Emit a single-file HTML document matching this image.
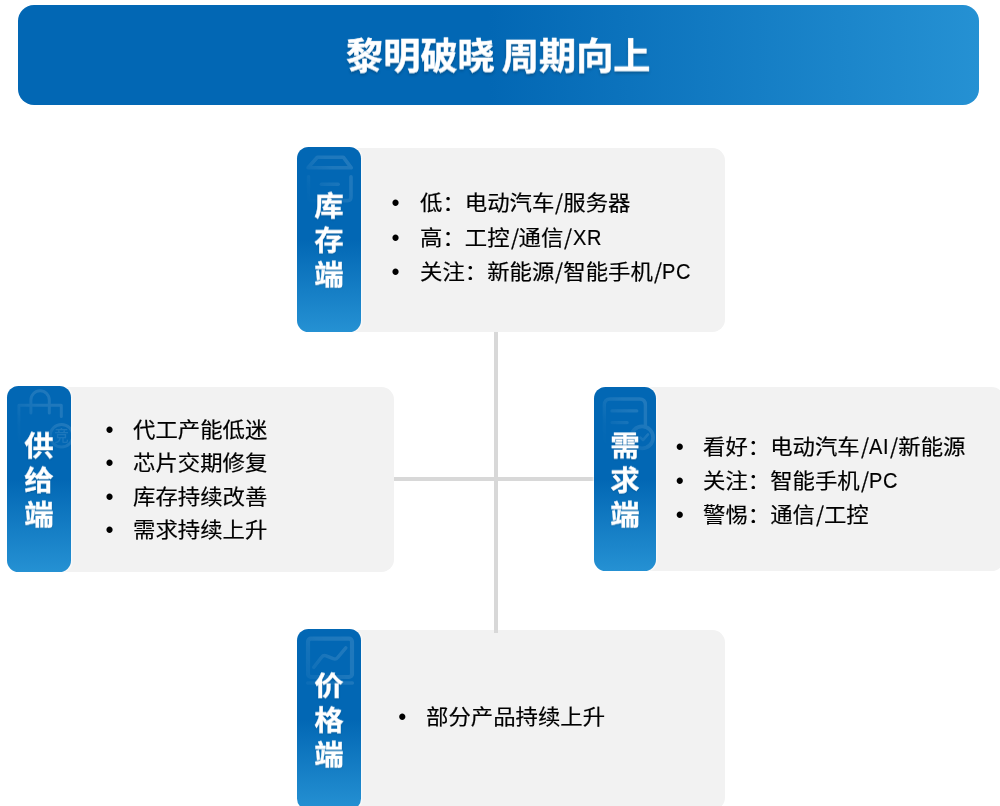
<!DOCTYPE html>
<html lang="zh-CN">
<head>
<meta charset="utf-8">
<title>黎明破晓 周期向上</title>
<style>
*{box-sizing:border-box;margin:0;padding:0}
html,body{width:1000px;height:806px;overflow:hidden;background:#fff}
body{position:relative;font-family:"Liberation Sans","Noto Sans CJK SC",sans-serif;color:#000}
.hdr{position:absolute;left:18px;top:5px;width:960.6px;height:100.3px;border-radius:16px;
  background:linear-gradient(90deg,#0267b4 0%,#0267b4 49%,#2591d3 100%);
  color:#fff;font-weight:700;font-size:37.2px;line-height:100px;text-align:center;
  text-shadow:0 2px 3px rgba(0,0,0,.25);white-space:pre;word-spacing:-3.3px;-webkit-text-stroke:.5px #fff}
.hdr span{display:block;will-change:transform;transform:translateY(1.7px) scaleY(.99)}
.card{position:absolute;background:#f2f2f2;border-radius:12.5px;height:184.2px}
.lab{position:absolute;left:0;top:-.7px;width:64.4px;height:184.6px;border-radius:11.5px;overflow:hidden;
  background:linear-gradient(180deg,#0267b4 0%,#0267b4 50%,#2591d3 100%);
  color:#fff;font-weight:700;font-size:29.5px;line-height:37px;text-align:center;
  text-shadow:0 1px 2px rgba(0,0,0,.2);-webkit-text-stroke:.3px #fff;box-shadow:0 0 2px .3px rgba(255,255,255,.75);
  display:flex;align-items:center;justify-content:center}
.lab span{display:block;width:30px;position:relative;z-index:1;will-change:transform;transform:translateY(.7px) scaleY(.93)}
.lab svg{position:absolute;left:0;top:0;width:64.4px;height:80px;fill:none;stroke:#fff;stroke-linecap:round;stroke-linejoin:round;
  -webkit-mask-image:linear-gradient(to bottom left,rgba(0,0,0,.13) 0%,rgba(0,0,0,.115) 35%,rgba(0,0,0,.075) 50%,rgba(0,0,0,.025) 64%,rgba(0,0,0,0) 80%);
  mask-image:linear-gradient(to bottom left,rgba(0,0,0,.13) 0%,rgba(0,0,0,.115) 35%,rgba(0,0,0,.075) 50%,rgba(0,0,0,.025) 64%,rgba(0,0,0,0) 80%)}
.lab svg text{-webkit-text-stroke:0;font-family:"Liberation Sans","Noto Sans CJK SC",sans-serif;font-weight:500;stroke:none;fill:#fff;text-shadow:none}
ul{position:absolute;list-style:none;font-size:22.4px;white-space:nowrap;-webkit-text-stroke:.2px #000}
li{position:relative;will-change:transform}
li:before{-webkit-text-stroke:0;content:"•";position:absolute;left:-28.3px;top:-2.2px;font-size:23px;transform:translate(var(--bx),var(--by))}
li span{display:inline-block;transform:scaleY(.935);transform-origin:0 76%}
i{font-style:normal;display:inline-block;width:9px;line-height:1;text-align:center;transform:translate(-.8px,4.1px) skewX(-6deg) scale(.84,1.36);transform-origin:50% 84.65%}
b{font-weight:400;display:inline-block;line-height:1;transform:translateY(.2px) scale(.893,1.08);transform-origin:0 84.65%;margin:0 -2.2px 0 .2px;letter-spacing:.7px}
.v{position:absolute;left:494px;top:332px;width:4px;height:300.6px;background:#d8d8d8;z-index:2}
.h{position:absolute;left:393px;top:477px;width:201px;height:3.8px;background:#d8d8d8}
</style>
</head>
<body>
<div class="v"></div><div class="h"></div>
<div class="hdr"><span>黎明破晓 周期向上</span></div>

<div class="card" style="left:297px;top:147.8px;width:427.8px;height:184.4px">
  <div class="lab">
    <svg viewBox="0 0 64.4 80" stroke-width="3.6">
      <path d="M11 20.8 20.3 10.2H46.3L54.3 20.8Z"/>
      <path d="M11.5 29.7V50.3Q11.5 53.6 14.8 53.6H50.7Q54 53.6 54 50.3V29.7"/>
      <path d="M24.3 37.3H41.2" stroke-width="3.4"/>
    </svg>
    <span>库存端</span>
  </div>
  <ul style="left:122.5px;top:38.1px;line-height:34.75px;--bx:-.1px;--by:2.26px">
    <li><span>低：电动汽车<i>/</i>服务器</span></li>
    <li><span>高：工控<i>/</i>通信<i>/</i><b>XR</b></span></li>
    <li><span>关注：新能源<i>/</i>智能手机<i>/</i><b>PC</b></span></li>
  </ul>
</div>

<div class="card" style="left:7px;top:387px;width:386.6px;height:184.5px">
  <div class="lab" style="top:-1px;height:185.7px">
    <svg viewBox="0 0 64.4 80" stroke-width="3">
      <path d="M23.9 27.1V14A9.2 9.2 0 0 1 42.3 14V27.1"/>
      <path d="M54.3 30.6V19.3H11.9V62"/>
      <circle cx="54.5" cy="49.7" r="11.3"/>
      <text x="54.5" y="55.2" font-size="14.5" text-anchor="middle">竞</text>
    </svg>
    <span style="transform:translateY(1.7px) scaleY(.93)">供给端</span>
  </div>
  <ul style="left:126px;top:25.9px;line-height:33.5px;--bx:.7px;--by:3.06px">
    <li><span>代工产能低迷</span></li>
    <li><span>芯片交期修复</span></li>
    <li><span>库存持续改善</span></li>
    <li><span>需求持续上升</span></li>
  </ul>
</div>

<div class="card" style="left:594px;top:387px;width:410px">
  <div class="lab" style="width:62.3px;top:-.4px;height:184.4px">
    <svg viewBox="0 0 64.4 80" stroke-width="3.4">
      <path d="M10.3 62V18Q10.3 12 16.3 12H45.4Q51.4 12 51.4 18V39"/>
      <path d="M17.9 23.9H42.8M17.9 35.6H33.2" stroke-width="3.2"/>
      <circle cx="48.1" cy="50.4" r="11" stroke-width="3.7"/>
      <path d="M46.4 50.6 49 53.2 54 47.4" stroke-width="2.6"/>
    </svg>
    <span style="transform:translateY(1.7px) scaleY(.93)">需求端</span>
  </div>
  <ul style="left:109px;top:43.35px;line-height:33.7px;--bx:1.1px;--by:2.66px">
    <li><span>看好：电动汽车<i>/</i><b>AI</b><i>/</i>新能源</span></li>
    <li><span>关注：智能手机<i>/</i><b>PC</b></span></li>
    <li><span>警惕：通信<i>/</i>工控</span></li>
  </ul>
</div>

<div class="card" style="left:297px;top:630px;width:427.8px;height:179.5px">
  <div class="lab" style="height:180.2px">
    <svg viewBox="0 0 64.4 80" stroke-width="4.2" style="-webkit-mask-image:linear-gradient(to bottom left,rgba(0,0,0,.13) 0%,rgba(0,0,0,.11) 40%,rgba(0,0,0,.075) 55%,rgba(0,0,0,.045) 75%,rgba(0,0,0,.02) 100%);mask-image:linear-gradient(to bottom left,rgba(0,0,0,.13) 0%,rgba(0,0,0,.11) 40%,rgba(0,0,0,.075) 55%,rgba(0,0,0,.045) 75%,rgba(0,0,0,.02) 100%)">
      <rect x="11" y="9.7" width="44" height="38.3" rx="3"/>
      <path d="M16.7 38.4 24.6 28.2Q26.4 25.9 29.2 26.9L36.2 29.7Q38.9 30.7 40.7 28.5L48.8 18.9" stroke-width="3.5"/>
      <path d="M10.6 54H55.4" stroke-width="3.4"/>
    </svg>
    <span>价格端</span>
  </div>
  <ul style="left:129px;top:69.9px;line-height:34px;--bx:.6px;--by:2.16px">
    <li><span>部分产品持续上升</span></li>
  </ul>
</div>
</body>
</html>
